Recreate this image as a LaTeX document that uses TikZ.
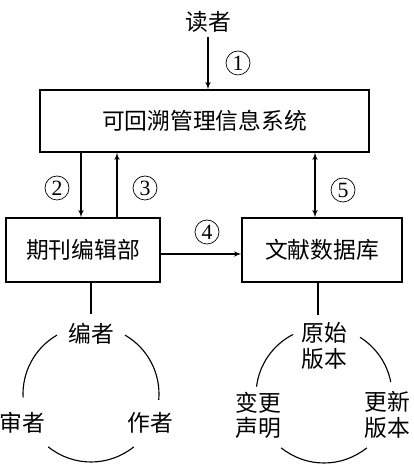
\documentclass[tikz,border=0pt]{standalone}
\usepackage{fontspec}
\setmainfont{Noto Sans CJK SC}
\newfontfamily\numfont{Liberation Serif}
\usetikzlibrary{arrows,calc,shapes,positioning}

\begin{document}
\begin{tikzpicture}[
    node distance = 1.5cm,
    font = \fontsize{16.2}{18}\selectfont
  ]
  \tikzstyle{block} = [
    draw, rectangle,
    line width     = 0.8pt,
    text centered,
    align          = center,
    minimum height = 1.6cm
  ]
  \tikzstyle{num}   = [
    draw, circle,
    line width     = 0.5pt,
    inner sep      = 0pt,
    minimum size   = 0.6cm,
    font           = \numfont\fontsize{15.5}{15.5}\selectfont
  ]
  \tikzstyle{role}  = [align = center, inner sep = 1pt, on grid]
  \tikzstyle{arrow} = [draw, line width = 0.8pt, -latex']
  \tikzstyle{line}  = [draw, line width = 0.8pt]

  \useasboundingbox (0,0) rectangle (10.325,11.875);

  \node [block, minimum width = 8.225cm, minimum height = 1.55cm] at (5.1125,8.85) (system) {可回溯管理信息系统};
  \node [block, minimum width = 3.85cm] at (2.075,5.625) (office)   {期刊编辑部};
  \node [block, minimum width = 4cm]    at (8.05,5.625)  (database) {文献数据库};
  \node at (5.2,11.325) (reader) {读者};

  \path [arrow] (reader) -- (reader |- system.north);
  \path [arrow] ([xshift=-0.05cm]office.north |- system.south) -- ([xshift=-0.05cm]office.north);
  \path [arrow] ([xshift=0.85cm]office.north) -- ([xshift=0.85cm]office.north |- system.south);
  \path [arrow] ([yshift=-0.1cm]office.east) -- ([yshift=-0.1cm]database.west);
  \path [arrow, latex'-latex'] ([xshift=-0.175cm]database.north) -- ([xshift=-0.175cm]database.north |- system.south);

  \node [num] at (5.95,10.3)    (n1) {1};
  \node [num] at (1.425,7.175)  (n2) {2};
  \node [num] at (3.625,7.175)  (n3) {3};
  \node [num] at (5.175,6.075)  (n4) {4};
  \node [num] at (8.575,7.125)  (n5) {5};

  % people around the office
  \coordinate (staff) at (2.275,2.025);
  \node [role, above = 1.5cm of staff, anchor = center]                     (editor)   {编者};
  \node [role, below left = 0.725cm and 1.725cm of staff, anchor = center]  (reviewer) {审者};
  \node [role, below right = 0.725cm and 1.475cm of staff, anchor = center] (author)   {作者};

  \path [line, shorten > = 0.2cm] (office.south -| editor) -- (editor);
  \draw [line width = 0.8pt] ($(staff)+(120:1.7)$) arc [start angle = 120, end angle = 183, radius = 1.7cm];
  \draw [line width = 0.8pt] ($(staff)+(60:1.7)$)  arc [start angle = 60,  end angle = -5,  radius = 1.7cm];
  \draw [line width = 0.8pt] ($(staff)+(231:1.7)$) arc [start angle = 231, end angle = 309, radius = 1.7cm];

  % versions around the database
  \coordinate (version) at (8.1,2.0);
  \node [role, above = 1.225cm of version, anchor = center]                 (original) {原始\\版本};
  \node [role, below left = 0.5cm and 1.65cm of version, anchor = center]   (change)   {变更\\声明};
  \node [role, below right = 0.5cm and 1.575cm of version, anchor = center] (update)   {更新\\版本};

  \path [line, shorten > = 0.15cm] ([xshift=-0.1cm]database.south) -- ([xshift=-0.1cm]database.south |- original.north);
  \draw [line width = 0.8pt] ($(version)+(117:1.7)$) arc [start angle = 117, end angle = 173, radius = 1.7cm];
  \draw [line width = 0.8pt] ($(version)+(58:1.7)$)  arc [start angle = 58,  end angle = 11,  radius = 1.7cm];
  \draw [line width = 0.8pt] ($(version)+(231:1.7)$) arc [start angle = 231, end angle = 309, radius = 1.7cm];
\end{tikzpicture}
\end{document}
